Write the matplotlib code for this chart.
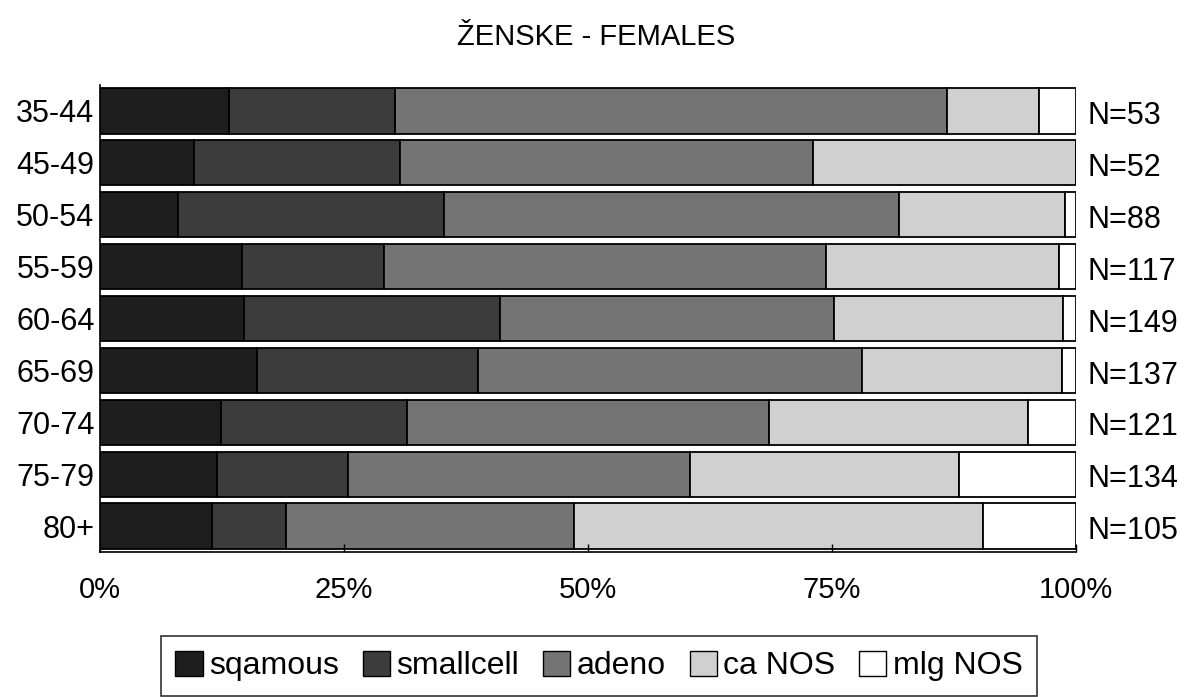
import numpy as np
import matplotlib
matplotlib.use("Agg")
import matplotlib.pyplot as plt
from matplotlib import font_manager
from matplotlib.patches import Patch

# ---- data (counts; N per age group) ----
age_groups = ["35-44", "45-49", "50-54", "55-59", "60-64", "65-69", "70-74", "75-79", "80+"]
squamous  = [7, 5, 7, 17, 22, 22, 15, 16, 12]
smallcell = [9, 11, 24, 17, 39, 31, 23, 18, 8]
adeno     = [30, 22, 41, 53, 51, 54, 45, 47, 31]
ca_nos    = [5, 14, 15, 28, 35, 28, 32, 37, 44]
mlg_nos   = [2, 0, 1, 2, 2, 2, 6, 16, 10]
n_totals  = [53, 52, 88, 117, 149, 137, 121, 134, 105]
series_names = ["sqamous", "smallcell", "adeno", "ca NOS", "mlg NOS"]
x_ticks = [0, 25, 50, 75, 100]
x_tick_labels = ["0%", "25%", "50%", "75%", "100%"]
title = "ŽENSKE - FEMALES"

colors = ["#1e1e1e", "#3c3c3c", "#747474", "#d0d0d0", "#ffffff"]

names = {f.name for f in font_manager.fontManager.ttflist}
base = "Liberation Sans" if "Liberation Sans" in names else "DejaVu Sans"
plt.rcParams["font.family"] = [base, "DejaVu Sans"]

W, H = 1192, 697
fig = plt.figure(figsize=(W / 100, H / 100), dpi=100)
ax = fig.add_axes([100 / W, 1 - 552 / H, (1076 - 100) / W, (552 - 85) / H])

series = [squamous, smallcell, adeno, ca_nos, mlg_nos]
totals = np.array(n_totals, dtype=float)
y = np.arange(len(age_groups))
left = np.zeros(len(age_groups))
for vals, col, name in zip(series, colors, series_names):
    pct = np.array(vals, dtype=float) / totals * 100
    ax.barh(y, pct, left=left, height=0.87, color=col, edgecolor="black",
            linewidth=1.3, label=name)
    left += pct

ax.set_xlim(0, 100)
ax.set_ylim(len(age_groups) - 0.5, -0.5)
ax.set_yticks(y)
ax.set_yticklabels(age_groups, fontsize=22)
ax.set_xticks(x_ticks)
ax.set_xticklabels(x_tick_labels, fontsize=21)
ax.tick_params(axis="y", length=0, pad=4)
ax.tick_params(axis="x", direction="in", length=6, width=1, pad=17)
for s in ["top", "right"]:
    ax.spines[s].set_visible(False)
ax.spines["left"].set_linewidth(1.2)
ax.spines["bottom"].set_linewidth(1.2)

for yi, n in zip(y, n_totals):
    ax.text(1.012, yi + 0.1, f"N={n}", transform=ax.get_yaxis_transform(),
            ha="left", va="center", fontsize=22)

fig.text(0.5, 1 - 37 / H, title, ha="center", va="center", fontsize=21)

handles = [Patch(facecolor=c, edgecolor="black", linewidth=1.0) for c in colors]
leg = fig.legend(handles, series_names, loc="center", ncol=5,
                 bbox_to_anchor=(599 / W, 1 - 666 / H),
                 prop={"family": [base], "size": 23},
                 frameon=True, fancybox=False, edgecolor="black",
                 handlelength=0.85, handleheight=0.85, handletextpad=0.2,
                 columnspacing=0.75, borderpad=0.45, borderaxespad=0)
leg.get_frame().set_linewidth(1.2)

fig.savefig("out.png", dpi=100)
